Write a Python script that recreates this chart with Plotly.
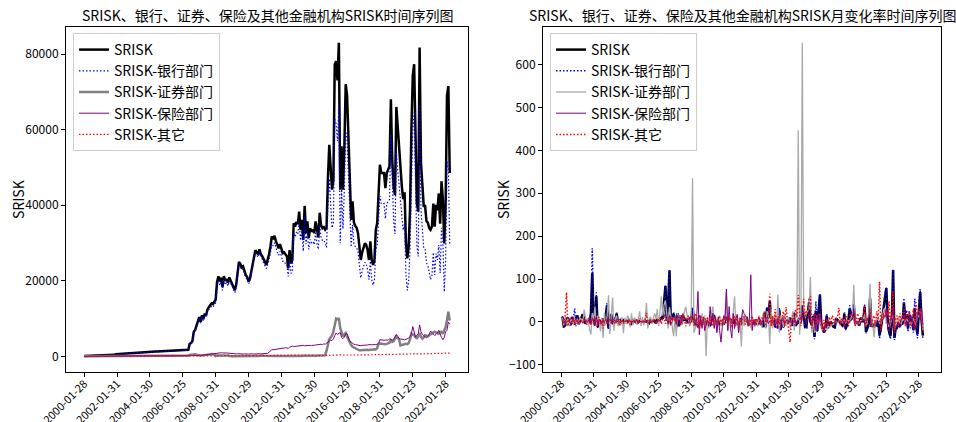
import numpy as np
import plotly.graph_objects as go

# ---------------- data (monthly, 2000-01 .. 2022-04) ----------------
tick_labels = ["2000-01-28", "2002-01-31", "2004-01-30", "2006-01-25", "2008-01-31", "2010-01-29",
               "2012-01-31", "2014-01-30", "2016-01-29", "2018-01-31", "2020-01-23", "2022-01-28"]

srisk = [
    60, 70, 90, 110, 130, 150, 170, 190, 200, 210, 230, 250,
    260, 270, 290, 300, 320, 340, 350, 360, 370, 380, 400, 530,
    560, 600, 700, 720, 740, 760, 780, 800, 820, 850, 880, 900,
    920, 950, 980, 1000, 1030, 1060, 1080, 1100, 1120, 1150, 1180, 1230,
    1240, 1260, 1280, 1270, 1260, 1280, 1300, 1310, 1320, 1330, 1340, 1350,
    1360, 1370, 1380, 1390, 1400, 1410, 1420, 1430, 1440, 1450, 1460, 1480,
    1500, 1550, 1600, 1700, 1750, 3300, 3500, 4000, 6500, 7000, 8000, 9500,
    10400, 9100, 10900, 9800, 11300, 10800, 12400, 13000, 13500, 14000, 13800, 14500,
    15000, 19700, 21200, 19800, 20800, 18400, 21200, 20000, 20500, 19500, 20900, 20000,
    19000, 18500, 17500, 19000, 22000, 25000, 24500, 23500, 23800, 22500, 21500, 21000,
    19800, 20500, 22500, 24500, 26500, 28100, 27500, 27000, 28300, 27000, 26500, 25500,
    25000, 24200, 25500, 27000, 29000, 31700, 31000, 31900, 30500, 29500, 28600, 29700,
    28600, 27300, 27500, 26800, 26500, 23300, 28100, 24600, 25500, 35200, 34300, 35600,
    35000, 38300, 33500, 36100, 30800, 39800, 32600, 35700, 31300, 33900, 33000, 33500,
    32600, 35700, 33000, 31500, 38000, 34700, 33900, 34200, 33500, 34000, 47000, 56000,
    50000, 44100, 46700, 77300, 78100, 73000, 83000, 44100, 55600, 44100, 55100, 72000,
    69000, 58400, 44100, 36100, 41000, 35400, 34500, 34000, 32600, 29000, 25500, 27500,
    29000, 29900, 29500, 28100, 25500, 30400, 25500, 24200, 25500, 33500, 35200, 42000,
    50700, 48500, 48500, 48500, 44500, 48500, 49400, 50300, 68000, 52000, 44900, 42700,
    66000, 60000, 54700, 48500, 45000, 41600, 43400, 30100, 25900, 29000, 38700, 60000,
    74200, 77300, 60000, 40400, 38300, 81700, 51200, 45000, 39800, 39800, 35800, 35400,
    34000, 33500, 34300, 40400, 34300, 40100, 38700, 43100, 35100, 46300, 41600, 29900,
    40400, 69000, 71500, 48500,
]

bank = [
    35, 45, 64, 83, 102, 122, 142, 161, 171, 180, 200, 219,
    230, 240, 260, 270, 290, 310, 320, 330, 340, 350, 370, 490,
    520, 560, 660, 680, 700, 720, 740, 760, 780, 810, 840, 860,
    880, 910, 940, 960, 990, 1020, 1040, 1060, 1080, 1110, 1140, 1180,
    1190, 1210, 1230, 1220, 1210, 1230, 1250, 1260, 1270, 1280, 1290, 1300,
    1300, 1310, 1320, 1330, 1340, 1350, 1360, 1370, 1380, 1390, 1400, 1420,
    1430, 1480, 1530, 1630, 1680, 3220, 3420, 3900, 6400, 6880, 7850, 9350,
    10150, 8800, 10550, 9400, 10850, 10300, 11850, 12400, 12850, 13300, 13050, 13700,
    14150, 18750, 20200, 18750, 19800, 17450, 20200, 18950, 19550, 18600, 20050, 19250,
    18250, 17800, 16850, 18300, 21250, 24300, 23850, 22900, 23150, 21800, 20850, 20400,
    19150, 19800, 21750, 23800, 25850, 27400, 26750, 26200, 27550, 26300, 25750, 24700,
    24150, 23250, 24250, 25450, 27250, 29850, 29200, 30050, 28550, 27600, 26750, 27750,
    26550, 25150, 25250, 24450, 24250, 21150, 25650, 21950, 22750, 32550, 31600, 32850,
    32300, 35550, 30650, 33300, 27850, 36950, 29700, 32750, 28300, 30950, 30100, 30450,
    29560, 32610, 29790, 28330, 34780, 31370, 30650, 30720, 29980, 28800, 39950, 47000,
    40350, 34020, 35200, 62880, 61450, 56970, 66480, 29900, 44220, 33740, 43860, 59470,
    57480, 48570, 36260, 28950, 34760, 29570, 29060, 28850, 27640, 24150, 20760, 22600,
    24150, 24890, 24480, 22970, 20310, 25200, 20290, 18880, 20220, 28160, 29350, 34840,
    42420, 40400, 40180, 40410, 36450, 40440, 41130, 41500, 58730, 43300, 35820, 32400,
    54280, 49250, 44820, 40340, 36860, 33380, 35000, 21680, 17460, 20040, 28320, 47300,
    59780, 64500, 49220, 29340, 26420, 66500, 38820, 33840, 28650, 28360, 24750, 24140,
    21920, 20300, 21380, 27460, 21540, 27220, 25540, 29460, 22080, 34020, 30400, 17080,
    25250, 51620, 49700, 29630,
]

securities = [
    5, 6, 5, 6, 7, 6, 7, 8, 7, 8, 9, 8,
    9, 8, 9, 10, 11, 14, 15, 14, 15, 12, 9, 11,
    12, 16, 14, 16, 17, 13, 14, 9, 11, 10, 12, 19,
    14, 16, 25, 20, 22, 25, 22, 23, 21, 24, 18, 20,
    19, 22, 24, 21, 25, 23, 25, 26, 24, 26, 33, 30,
    33, 30, 32, 46, 39, 42, 47, 45, 49, 59, 64, 83,
    75, 90, 144, 166, 232, 348, 418, 355, 479, 527, 422, 283,
    317, 212, 254, 267, 307, 282, 310, 378, 514, 591, 638, 574,
    60, 250, 190, 160, 175, 165, 185, 165, 200, 190, 215, 45,
    50, 42, 45, 54, 74, 65, 71, 57, 60, 69, 62, 67,
    63, 72, 122, 98, 108, 113, 96, 120, 192, 173, 199, 149,
    164, 71, 85, 77, 88, 92, 85, 95, 81, 89, 93, 82,
    89, 80, 92, 97, 85, 102, 112, 95, 119, 140, 69, 90,
    76, 84, 101, 91, 149, 112, 129, 139, 122, 146, 132, 139,
    150, 130, 140, 175, 140, 160, 176, 200, 300, 1500, 3000, 4500,
    5000, 5500, 6500, 8500, 10000, 9800, 10100, 7500, 6000, 5300, 5800, 6200,
    5200, 4300, 3500, 3000, 2500, 2300, 2000, 1800, 1700, 1600, 1600, 1650,
    1600, 1650, 1700, 1750, 1700, 1800, 1750, 1800, 1850, 1800, 2200, 3300,
    3400, 3300, 3400, 3300, 3200, 3300, 3400, 3600, 4250, 3800, 4000, 4700,
    5300, 4800, 4500, 2900, 3000, 3200, 3400, 3300, 3200, 3500, 4500, 6000,
    5800, 5600, 5000, 4800, 5200, 6200, 5200, 4700, 5000, 5600, 5500, 5300,
    5600, 5800, 6000, 6400, 6500, 6300, 6200, 6000, 6460, 6500, 6000, 7000,
    7800, 9600, 11800, 9500,
]

insurance = [
    10, 10, 11, 11, 12, 12, 12, 13, 13, 14, 14, 15,
    15, 16, 16, 17, 17, 18, 19, 19, 20, 21, 21, 23,
    24, 23, 26, 25, 26, 27, 26, 27, 27, 29, 28, 29,
    30, 31, 30, 31, 32, 32, 33, 33, 32, 34, 34, 35,
    36, 36, 37, 37, 36, 37, 38, 38, 40, 39, 40, 40,
    41, 42, 41, 43, 43, 42, 43, 44, 45, 46, 46, 48,
    50, 55, 60, 65, 70, 85, 95, 90, 100, 110, 120, 140,
    200, 250, 300, 350, 400, 450, 500, 550, 600, 650, 700, 750,
    800, 900, 950, 1000, 950, 900, 950, 1000, 900, 850, 800, 700,
    700, 650, 600, 650, 700, 650, 600, 550, 600, 650, 600, 550,
    600, 650, 700, 650, 600, 650, 700, 750, 700, 650, 700, 750,
    700, 750, 800, 1100, 1500, 1750, 1750, 1800, 1900, 1850, 1800, 1900,
    2000, 2100, 2200, 2300, 2200, 2100, 2400, 2600, 2700, 2600, 2650, 2700,
    2650, 2700, 2800, 2750, 2900, 2800, 2850, 2900, 2950, 2900, 2850, 3000,
    2950, 3000, 3100, 3050, 3100, 3200, 3100, 3300, 3200, 3500, 3800, 4200,
    4300, 4200, 4600, 5500, 6200, 5800, 6000, 6300, 5000, 4700, 5100, 6000,
    6000, 5200, 4000, 3800, 3400, 3200, 3100, 3000, 2900, 2900, 2800, 2900,
    2900, 3000, 2950, 3000, 3100, 3000, 3050, 3100, 3000, 3100, 3200, 3400,
    4400, 4300, 4400, 4250, 4300, 4200, 4300, 4600, 4400, 4300, 4500, 5000,
    5800, 5300, 4700, 4600, 4500, 4400, 4400, 4500, 4600, 4800, 5200, 6000,
    7900, 6500, 5100, 5600, 6000, 8300, 6500, 5800, 5500, 5200, 4900, 5300,
    5800, 6700, 6200, 5800, 5500, 5800, 6200, 6900, 5800, 5000, 4400, 5000,
    6500, 6900, 9100, 8500,
]

others = [
    5, 5, 5, 5, 8, 7, 8, 8, 8, 9, 9, 9,
    9, 9, 10, 10, 10, 11, 11, 10, 11, 12, 11, 12,
    11, 12, 13, 12, 13, 12, 13, 11, 11, 12, 11, 12,
    13, 12, 13, 13, 12, 13, 14, 13, 13, 14, 13, 13,
    14, 13, 14, 13, 14, 14, 13, 14, 15, 14, 15, 15,
    15, 16, 17, 20, 19, 20, 21, 20, 21, 23, 22, 22,
    23, 25, 24, 26, 29, 28, 30, 33, 34, 32, 36, 37,
    40, 38, 43, 45, 41, 46, 55, 58, 52, 56, 65, 61,
    65, 71, 66, 79, 88, 75, 81, 93, 82, 90, 95, 87,
    98, 92, 99, 114, 103, 108, 119, 109, 116, 130, 123, 133,
    125, 138, 145, 133, 149, 158, 142, 153, 176, 167, 184, 177,
    186, 171, 188, 211, 198, 214, 225, 202, 214, 246, 234, 253,
    243, 257, 288, 265, 292, 306, 383, 360, 303, 327, 343, 309,
    355, 327, 425, 374, 411, 393, 334, 361, 351, 316, 327, 343,
    275, 146, 161, 185, 170, 221, 248, 304, 325, 292, 336, 430,
    350, 380, 400, 420, 450, 430, 420, 400, 380, 360, 340, 330,
    320, 330, 340, 350, 340, 330, 340, 350, 360, 350, 340, 350,
    350, 360, 370, 380, 390, 400, 410, 420, 430, 440, 450, 460,
    480, 500, 520, 540, 550, 560, 570, 600, 620, 600, 580, 600,
    620, 650, 680, 660, 640, 620, 600, 620, 640, 660, 680, 700,
    720, 700, 680, 660, 680, 700, 680, 660, 650, 640, 650, 660,
    680, 700, 720, 740, 760, 780, 760, 740, 760, 780, 800, 820,
    850, 880, 900, 870,
]

# monthly change rates (%)
srisk_chg = [
    None, 12, -10, -8, 5, 10, 3, -7, 12, 4, -6, 8,
    15, -5, 3, 9, 18, 6, -4, 2, 5, -3, 20, 114,
    10, -8, 60, -12, 5, -6, 3, 8, -4, 20, 40, -15,
    5, 18, -5, 10, 3, 20, -4, 2, 6, -3, 4, 2,
    3, -2, 5, 1, -3, 4, 2, 6, -4, 3, 1, 2,
    2, -1, 3, 1, 2, -2, 4, 1, 3, 2, -3, 5,
    3, 6, 10, 10, 55, 84, 3, 45, 120, -5, 15, 18,
    10, -12, 20, -10, 15, -5, 15, 5, 4, 4, -2, 5,
    3, 33, 8, -7, 5, -12, 15, -6, 3, -5, 7, -4,
    -5, -3, -6, 9, 16, 14, -2, -4, 1, -5, -4, -2,
    -6, 4, 10, 9, 8, 6, -2, -2, 5, -5, -2, -4,
    -2, -3, 5, 6, 7, 9, -2, 3, -4, -3, -3, 4,
    -4, -5, 1, -3, -1, -12, 21, -12, 33, 10, 48, 4,
    -2, 9, -12, 8, -15, 29, -18, 10, -12, 8, -3, 2,
    -3, 10, -8, -5, 21, -9, -2, 1, -2, 2, 38, 19,
    -11, -12, 18, 45, 1, -7, 14, -35, 26, -21, 25, 63,
    -4, -15, -24, -18, 14, -14, -3, -1, -4, -11, -12, 8,
    5, 3, -1, -5, -9, 19, -16, -5, 5, 31, 5, 19,
    40, -4, 0, 0, -8, 9, 2, 2, 35, -23, -14, -5,
    55, -9, -9, -11, -7, -8, 4, -31, -14, 12, 33, 55,
    79, 4, -22, -33, -5, 121, -37, -12, -12, 0, -10, -1,
    -4, 45, 3, 18, -15, 17, -3, 11, -19, 32, -10, -28,
    35, 70, 4, -32,
]

bank_chg = [
    None, 14, -12, -9, 6, 12, 3, -8, 13, 5, 32, -10,
    17, -6, 3, 10, 20, 7, -5, 2, 6, -4, 22, 172,
    12, -9, 69, -14, 6, -7, 3, 9, -5, 22, 44, -17,
    5, 20, -6, 11, 3, 22, -5, 2, 7, -4, 4, 2,
    3, -2, 5, 1, -3, 4, 2, 6, -4, 3, 1, 2,
    2, -1, 3, 1, 2, -2, 4, 1, 3, 2, -3, 5,
    3, 6, 10, 11, 58, 86, 3, 48, 123, -5, 16, 19,
    11, -13, 21, -11, 16, -5, 16, 5, 4, 4, -2, 5,
    3, 33, 8, -7, 6, -12, 16, -6, 3, -5, 8, -4,
    -5, -3, -6, 9, 17, 14, -2, -4, 1, -6, -4, -2,
    -6, 4, 10, 9, 9, 6, -2, -2, 5, -5, -2, -4,
    -2, -4, 4, 5, 7, 10, -2, 3, -5, -3, -3, 4,
    -4, -5, 1, -3, -1, -13, 22, -14, 36, 11, 52, 4,
    -2, 10, -14, 9, -16, 33, -20, 10, -14, 9, -3, 1,
    -2, 11, -9, -5, 23, -10, -2, 1, -2, -4, 39, 18,
    -14, -16, 19, 55, -2, -7, 17, -40, 48, -24, 30, 66,
    -4, -16, -25, -20, 20, -15, -2, -1, -4, -13, -14, 9,
    7, 3, -2, -6, -12, 24, -19, -7, 7, 39, 4, 19,
    42, -5, 0, 1, -10, 11, 2, 1, 42, -26, -17, -10,
    68, -9, -9, -10, -9, -9, 5, -38, -19, 15, 41, 67,
    82, 8, -24, -40, -10, 123, -42, -13, -15, -1, -13, -2,
    -9, 56, 5, 28, -22, 26, -6, 15, -25, 54, -11, -38,
    48, 77, 0, -40,
]

securities_chg = [
    None, 10, -8, 12, -5, 8, -10, 6, 4, -7, 9, -4,
    8, -6, 10, 5, -3, 29, 12, -5, 8, -18, -29, 21,
    5, 36, -10, 15, 8, -22, 10, -37, 20, -8, 15, 62,
    -29, 12, 57, -20, 8, 15, -10, 5, -8, 12, -26, 10,
    -5, 15, 8, -12, 20, -8, 10, 5, -6, 8, 25, -10,
    12, -8, 5, 44, -15, 8, 12, -5, 10, 20, 8, 30,
    -10, 20, 60, 15, 40, 50, 20, -15, 35, 10, -20, -33,
    12, -33, 20, 5, 15, -8, 10, 22, 36, 15, 8, -10,
    10, 335, -25, -15, 10, -5, 12, -10, 20, -5, 15, -80,
    10, -15, 8, 20, 36, -12, 10, -20, 5, 15, -10, 8,
    -6, 15, 69, -20, 10, 5, -15, 25, 60, -10, 15, -25,
    10, -57, 20, -10, 15, 5, -8, 12, -15, 10, 5, -12,
    8, -10, 15, 5, -12, 20, 10, -15, 25, 18, -51, 30,
    -15, 10, 20, -10, 64, -25, 15, 8, -12, 20, -10, 5,
    10, -15, 8, 25, -20, 15, 10, 447, -30, 20, 651, 30,
    15, 20, 25, 30, 105, -26, 5, -25, -20, 15, -10, 12,
    -15, -18, -20, -15, -18, -8, -13, -10, -5, -6, 0, 3,
    -3, 3, 3, 3, -3, 6, -3, 3, 3, -3, 10, 20,
    87, -5, 3, -3, -3, 3, 3, 6, 18, -10, 5, 17,
    89, -9, -6, -36, 3, 7, 6, -3, -3, 9, 29, 33,
    -3, -4, -11, -4, 8, 19, -16, -10, 6, 12, -2, -4,
    6, 4, 3, 7, 2, -3, -2, -3, 8, 1, -8, 17,
    11, 23, 23, -19,
]

insurance_chg = [
    None, 5, -3, 4, -2, 3, 1, -4, 2, 3, -2, 1,
    2, -3, 4, 1, -2, 3, 5, -1, 2, 8, -5, 10,
    4, -6, 12, -3, 2, 5, -4, 3, 1, 6, -2, 3,
    2, 5, -3, 4, 2, -1, 3, 2, -2, 4, 1, 2,
    3, -1, 2, 1, -2, 3, 1, 2, 4, -3, 2, 1,
    1, 2, -1, 3, 1, -2, 2, 1, 3, 2, -1, 4,
    2, 3, 5, 8, 12, 20, 10, -5, 15, 8, 5, 12,
    10, -5, 15, 8, 12, -3, 18, 5, 10, 8, 6, 12,
    10, 15, 6, -8, 5, 71, -30, 8, -15, 12, -20, -10,
    5, -10, 36, -8, 20, -15, 10, -25, 12, -20, -47, -10,
    15, 8, 77, -20, 36, -15, -37, 20, -15, 8, 18, -25,
    10, 5, 29, 20, 15, 10, -10, 8, 110, -20, 5, -8,
    6, 5, 10, 5, -6, 8, 15, 10, 5, -4, 3, 2,
    -3, 4, 6, -3, 8, -5, 3, 4, 2, -4, 3, 5,
    -2, 4, 3, -3, 5, 4, -5, 10, 6, 12, 15, 12,
    8, -5, 12, 20, 10, -8, 5, 20, -20, 15, -10, 18,
    0, -14, -22, -5, -10, -6, -3, -3, -4, 0, -4, 4,
    0, 3, -2, 2, 3, -3, 2, 2, -3, 3, 3, 6,
    30, -2, 2, -4, 1, -2, 2, 7, -4, -2, 5, 11,
    16, -9, -11, -2, -2, -2, 0, 2, 2, 4, 8, 15,
    32, -18, -22, 10, 7, 38, -22, -11, -5, -5, -6, 8,
    9, 16, -7, -6, -5, 5, 7, 11, -16, -14, -12, 14,
    30, 6, 32, -7,
]

others_chg = [
    None, 5, -3, 12, 69, -10, 8, 5, -6, 12, -4, 8,
    3, -5, 10, 4, -3, 8, 2, -6, 5, 10, -8, 6,
    -4, 8, 5, -10, 12, -6, 4, -15, 3, 7, -5, 4,
    6, -3, 8, 2, -5, 4, 6, -8, 3, 5, -4, 2,
    3, -2, 5, -6, 4, 2, -3, 6, 3, -5, 8, 2,
    -3, 4, 6, 21, -4, 3, 5, -2, 4, 8, -6, 3,
    5, 10, -5, 8, 12, -4, 6, 10, 5, -8, 12, 4,
    8, -5, 12, 6, -8, 10, 20, 5, -10, 8, 15, -5,
    6, 10, -8, 20, 12, -15, 8, 15, -12, 10, 5, -8,
    12, -6, 8, 15, -10, 5, 10, -8, 6, 12, -5, 8,
    -6, 10, 5, -8, 12, 6, -10, 8, 15, -5, 10, -4,
    5, -8, 10, 12, -6, 8, 5, -10, 6, 15, -5, 8,
    -4, 6, 12, -8, 10, 5, 25, -6, 12, 8, 66, -10,
    15, -8, 30, -12, 10, 20, -15, 8, 25, -10, 35, 5,
    -20, -47, 10, 15, -8, 30, 12, 63, 20, -10, 15, 54,
    10, 25, 20, 35, 60, -15, 10, 20, -12, 8, 15, 21,
    -10, -21, 5, -15, 8, -10, 12, -8, 15, 10, -5, 8,
    12, 33, -8, 10, 5, -12, 15, 8, -10, 12, 20, 10,
    15, -10, 8, 20, -8, 5, 12, 15, 38, -10, 10, 15,
    30, -12, 8, 15, -10, 25, 5, 94, -20, 15, 20, 10,
    25, 15, 48, -15, 20, 72, -25, 10, 15, -10, 20, 5,
    15, 30, -10, 20, 8, 25, -15, 12, 30, -12, 46, 15,
    25, 30, 10, -25,
]

# ---------------- figure ----------------
W, H = 956, 422
FONT = "Noto Sans CJK SC, sans-serif"

x = np.arange(len(srisk))
tick_pos = x[::24][:len(tick_labels)]
x_range = [-0.05 * (len(x) - 1), 1.05 * (len(x) - 1)]


def padded_range(*series):
    vals = np.concatenate([np.array([np.nan if v is None else v for v in s], dtype=float) for s in series])
    vals = vals[~np.isnan(vals)]
    lo, hi = vals.min(), vals.max()
    pad = 0.05 * (hi - lo)
    return [lo - pad, hi + pad]


DOT = "1.5px,2px"

left_specs = [
    ("SRISK", srisk, dict(color="black", width=2.5)),
    ("SRISK-银行部门", bank, dict(color="blue", width=1.2, dash=DOT)),
    ("SRISK-证券部门", securities, dict(color="gray", width=2.5)),
    ("SRISK-保险部门", insurance, dict(color="purple", width=1)),
    ("SRISK-其它", others, dict(color="red", width=1.2, dash=DOT)),
]
right_specs = [
    ("SRISK", srisk_chg, dict(color="black", width=2.5)),
    ("SRISK-银行部门", bank_chg, dict(color="blue", width=1.5, dash=DOT)),
    ("SRISK-证券部门", securities_chg, dict(color="#a9a9a9", width=1.3)),
    ("SRISK-保险部门", insurance_chg, dict(color="purple", width=1)),
    ("SRISK-其它", others_chg, dict(color="red", width=1.5, dash=DOT)),
]

fig = go.Figure()
for i, (name, ys, line) in enumerate(left_specs):
    fig.add_trace(go.Scatter(x=x, y=ys, mode="lines", name=name, line=line,
                             xaxis="x", yaxis="y", legend="legend", legendgroup=f"a{i}"))
for i, (name, ys, line) in enumerate(right_specs):
    fig.add_trace(go.Scatter(x=x, y=ys, mode="lines", name=name, line=line,
                             xaxis="x2", yaxis="y2", legend="legend2", legendgroup=f"b{i}"))

y_dom = [50 / H, 395 / H]
axis_common = dict(showline=True, mirror=True, linecolor="black", linewidth=1,
                   ticks="outside", ticklen=4, tickcolor="black", showgrid=False,
                   zeroline=False, automargin=False)
x_font = dict(family=FONT, size=11, color="black")
y_font = dict(family=FONT, size=12, color="black")

legend_common = dict(xanchor="left", yanchor="top", bgcolor="rgba(255,255,255,0.8)",
                     bordercolor="#cccccc", borderwidth=1,
                     font=dict(family=FONT, size=14, color="black"), tracegroupgap=0)

fig.update_layout(
    template="none",
    width=W, height=H,
    margin=dict(l=0, r=0, t=0, b=0, autoexpand=False),
    paper_bgcolor="white", plot_bgcolor="white",
    font=dict(family=FONT, color="black"),
    xaxis=dict(domain=[66 / W, 468 / W], range=x_range, tickvals=tick_pos, ticktext=tick_labels,
               tickangle=-45, anchor="y", tickfont=x_font, ticklabelstandoff=-4, **axis_common),
    yaxis=dict(domain=y_dom, range=padded_range(srisk, bank, securities, insurance, others),
               tickvals=[0, 20000, 40000, 60000, 80000], tickformat="d", anchor="x",
               tickfont=y_font, **axis_common),
    xaxis2=dict(domain=[543 / W, 941 / W], range=x_range, tickvals=tick_pos, ticktext=tick_labels,
                tickangle=-45, anchor="y2", tickfont=x_font, ticklabelstandoff=-4, **axis_common),
    yaxis2=dict(domain=y_dom,
                range=padded_range(srisk_chg, bank_chg, securities_chg, insurance_chg, others_chg),
                tickvals=[-100, 0, 100, 200, 300, 400, 500, 600], tickformat="d", anchor="x2",
                tickfont=y_font, **axis_common),
    legend=dict(x=73 / W, y=1 - 33 / H, **legend_common),
    legend2=dict(x=550 / W, y=1 - 33 / H, **legend_common),
    annotations=[
        dict(text="SRISK、银行、证券、保险及其他金融机构SRISK时间序列图", x=267 / W, y=1 - 15 / H,
             xanchor="center", yanchor="middle",
             xref="paper", yref="paper", showarrow=False, font=dict(family=FONT, size=14)),
        dict(text="SRISK、银行、证券、保险及其他金融机构SRISK月变化率时间序列图", x=742 / W, y=1 - 15 / H,
             xanchor="center", yanchor="middle",
             xref="paper", yref="paper", showarrow=False, font=dict(family=FONT, size=14)),
        dict(text="SRISK", x=18 / W, y=1 - 200 / H, xanchor="center", yanchor="middle",
             xref="paper", yref="paper", showarrow=False,
             textangle=-90, font=dict(family=FONT, size=14)),
        dict(text="SRISK", x=503 / W, y=1 - 200 / H, xanchor="center", yanchor="middle",
             xref="paper", yref="paper", showarrow=False,
             textangle=-90, font=dict(family=FONT, size=14)),
    ],
)

fig.write_html("out.html")
